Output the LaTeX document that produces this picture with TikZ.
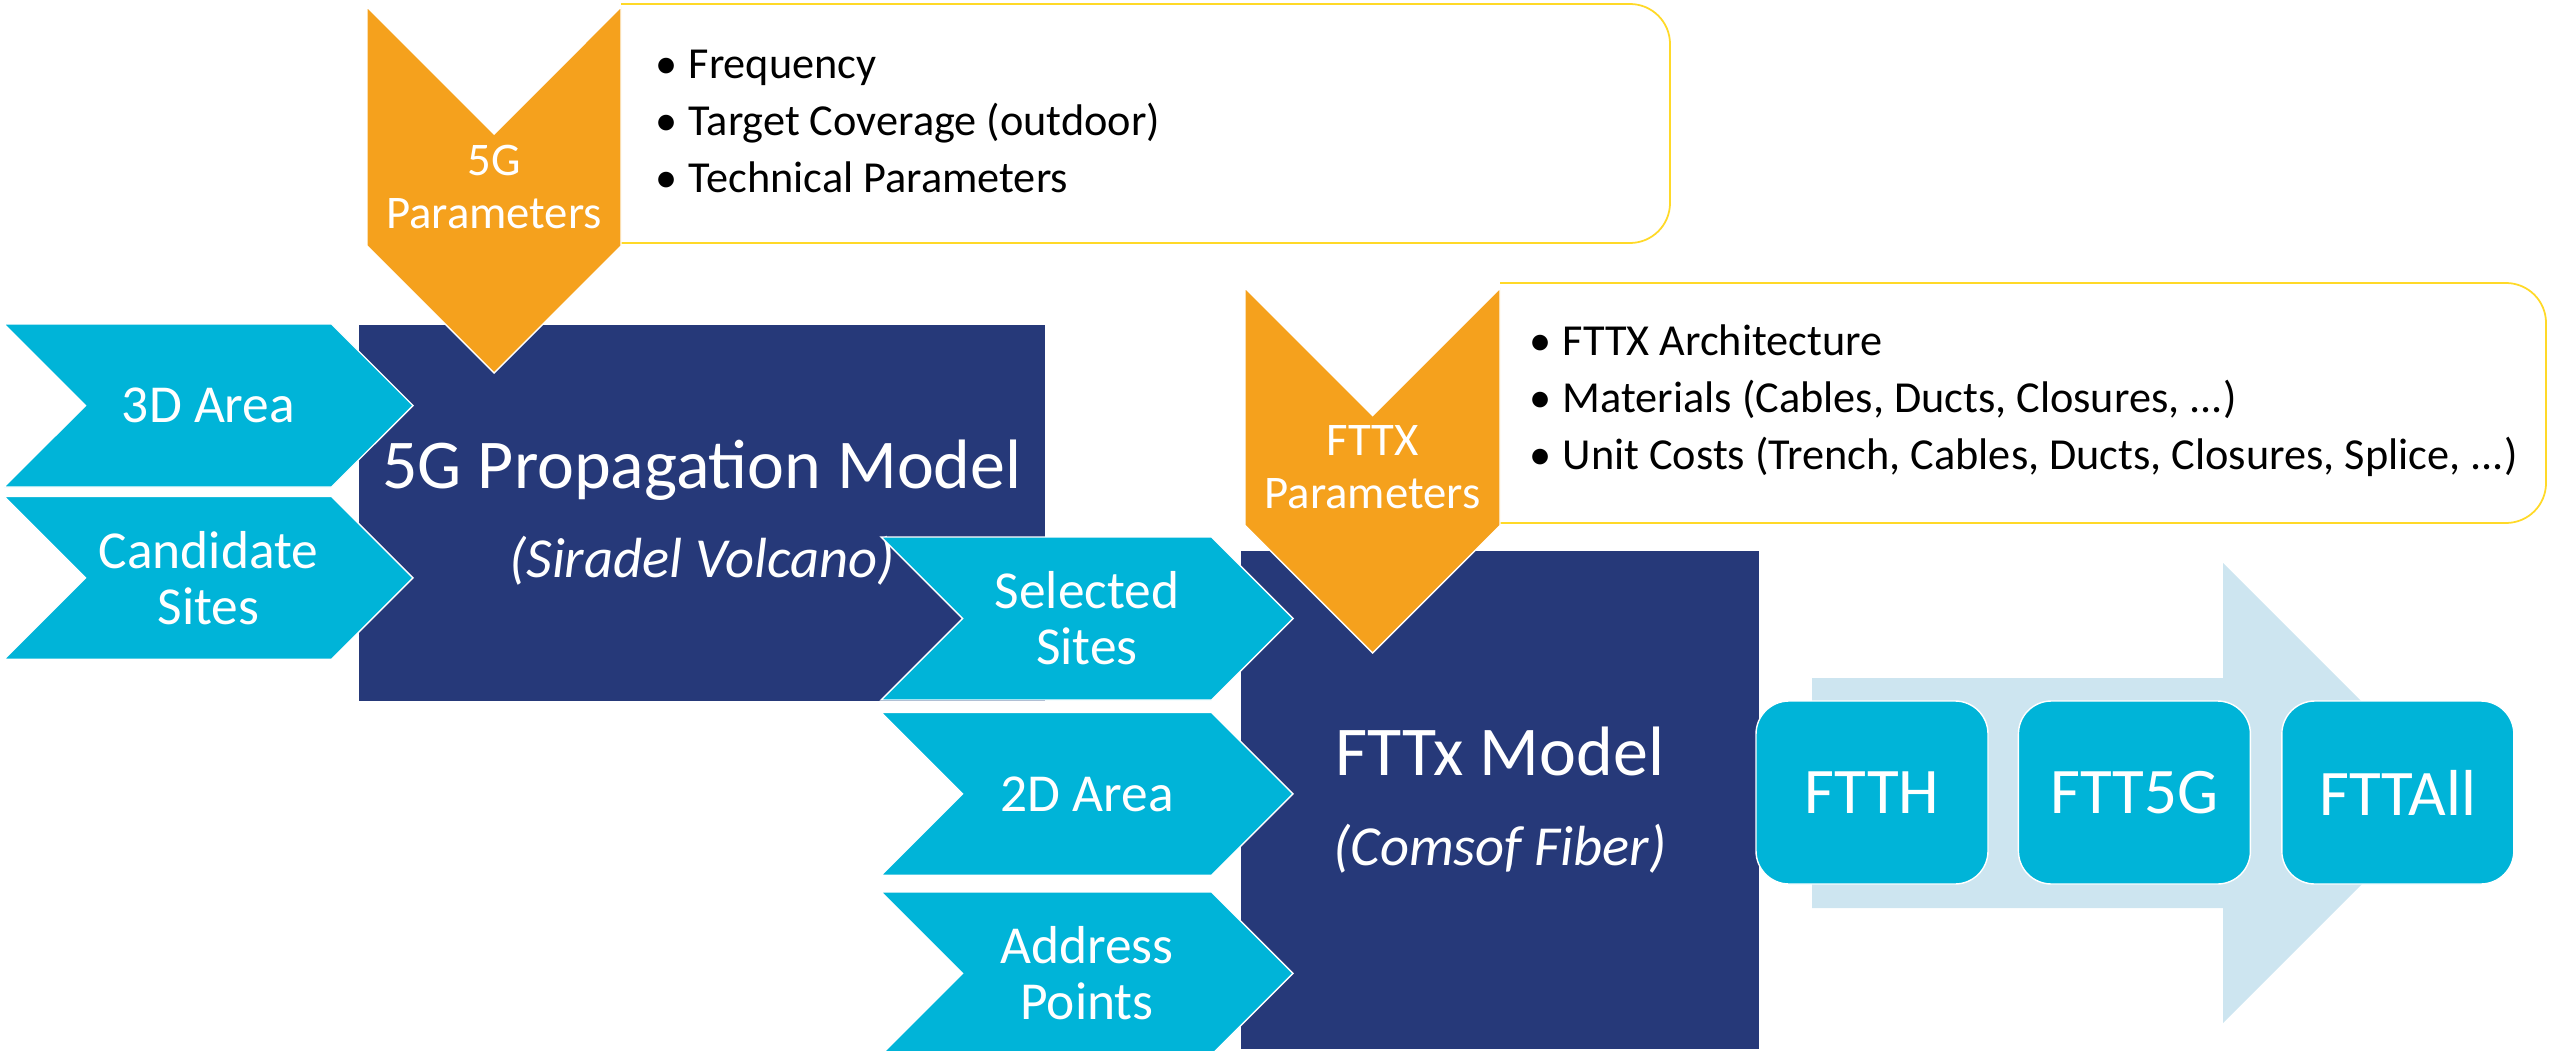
\documentclass[tikz,border=0pt]{standalone}
\usepackage{fontspec}
\setmainfont{Carlito}
\usepackage{xcolor}
\usepackage{tikz}
\usetikzlibrary{shapes.symbols, positioning}
\definecolor{navyblue}{RGB}{38,57,121}
\definecolor{cyanblue}{RGB}{0,180,216}
\definecolor{paramorange}{RGB}{245,161,29}
\definecolor{paleblue}{RGB}{205,229,240}
\definecolor{boxyellow}{RGB}{255,217,40}
\tikzset{
  model/.style={rectangle, fill=navyblue, draw=white, line width=0.4pt,
                text=white, align=center, inner sep=0pt},
  inchev/.style={signal, signal from=west, signal to=east,
                 fill=cyanblue, draw=white, line width=0.4pt,
                 text=white, align=center, inner sep=0pt,
                 minimum width=4.09cm, minimum height=1.63cm,
                 font=\fontsize{15.2}{15.9}\selectfont},
  parchev/.style={signal, signal from=west, signal to=east, rotate=-90,
                  fill=paramorange, draw=white, line width=0.4pt,
                  inner sep=0pt, minimum width=3.66cm, minimum height=2.54cm},
  partitle/.style={text=white, align=center, inner sep=0pt,
                   font=\fontsize{13.3}{15}\selectfont},
  parbox/.style={rounded corners=0.4cm, draw=boxyellow, line width=0.5pt},
  partext/.style={anchor=west, align=left, inner sep=0pt,
                  font=\fontsize{12.6}{16.2}\selectfont},
  outbox/.style={rectangle, rounded corners=0.33cm, fill=cyanblue,
                 draw=white, line width=0.4pt, text=white,
                 minimum width=2.32cm, minimum height=1.83cm,
                 font=\fontsize{18.5}{20}\selectfont}
}
\newcommand{\itm}{\makebox[0.33cm][l]{\textbullet}}

\begin{document}
\begin{tikzpicture}
  \useasboundingbox (0,0) rectangle (25.49,-10.51);

  % Parameter boxes
  \draw[parbox] (6.21,-0.04) -- (16.70,-0.04) -- (16.70,-2.43) -- (6.21,-2.43);
  \node[partext] (p5gtext) at (6.55,-1.215)
    {\itm Frequency\\ \itm Target Coverage (outdoor)\\ \itm Technical Parameters};
  \draw[parbox] (15.00,-2.83) -- (25.46,-2.83) -- (25.46,-5.23) -- (15.00,-5.23);
  \node[partext] (pfttxtext) at (15.29,-4.01)
    {\itm FTTX Architecture\\ \itm Materials (Cables, Ducts, Closures, ...)\\
     \itm Unit Costs (Trench, Cables, Ducts, Closures, Splice, ...)};

  % Output arrow
  \fill[paleblue] (18.12,-6.78) -- (22.23,-6.78) -- (22.23,-5.63) -- (24.53,-7.93)
    -- (22.23,-10.23) -- (22.23,-9.08) -- (18.12,-9.08) -- cycle;

  % Models
  \node[model, minimum width=6.88cm, minimum height=3.78cm,
        font=\fontsize{19.9}{25.3}\selectfont] (m5g) at (7.02,-5.13)
    {5G Propagation Model\\
     {\fontsize{16.1}{25.3}\selectfont\itshape (Siradel Volcano)}};
  \node[model, minimum width=5.20cm, minimum height=5.00cm,
        font=\fontsize{19.9}{25.6}\selectfont] (mfttx) at (15.00,-8.00)
    {FTTx Model\\
     {\fontsize{16.1}{25.6}\selectfont\itshape (Comsof Fiber)}};

  % Inputs
  \node[inchev] (area3d) at (2.085,-4.055) {3D Area};
  \node[inchev, below=0.08cm of area3d] (cand) {Candidate\\Sites};
  \node[inchev, minimum width=4.12cm] (sel) at (10.87,-6.185) {Selected\\Sites};
  \node[inchev, minimum width=4.12cm, below=0.11cm of sel] (area2d) {2D Area};
  \node[inchev, minimum width=4.12cm, below=0.15cm of area2d] (addr) {Address\\Points};

  % Parameters
  \node[parchev] (par5g) at (4.94,-1.90) {};
  \node[partitle] (par5gtext) at (4.94,-1.87) {5G\\Parameters};
  \node[parchev, minimum height=2.55cm, minimum width=3.65cm] (parfttx) at (13.725,-4.705) {};
  \node[partitle] (parfttxtext) at (13.725,-4.675) {FTTX\\Parameters};

  % Outputs
  \node[outbox] (ftth) at (18.72,-7.925) {FTTH};
  \node[outbox, right=0.29cm of ftth] (ftt5g) {FTT5G};
  \node[outbox, right=0.30cm of ftt5g] (fttall) {FTTAll};

\end{tikzpicture}
\end{document}
